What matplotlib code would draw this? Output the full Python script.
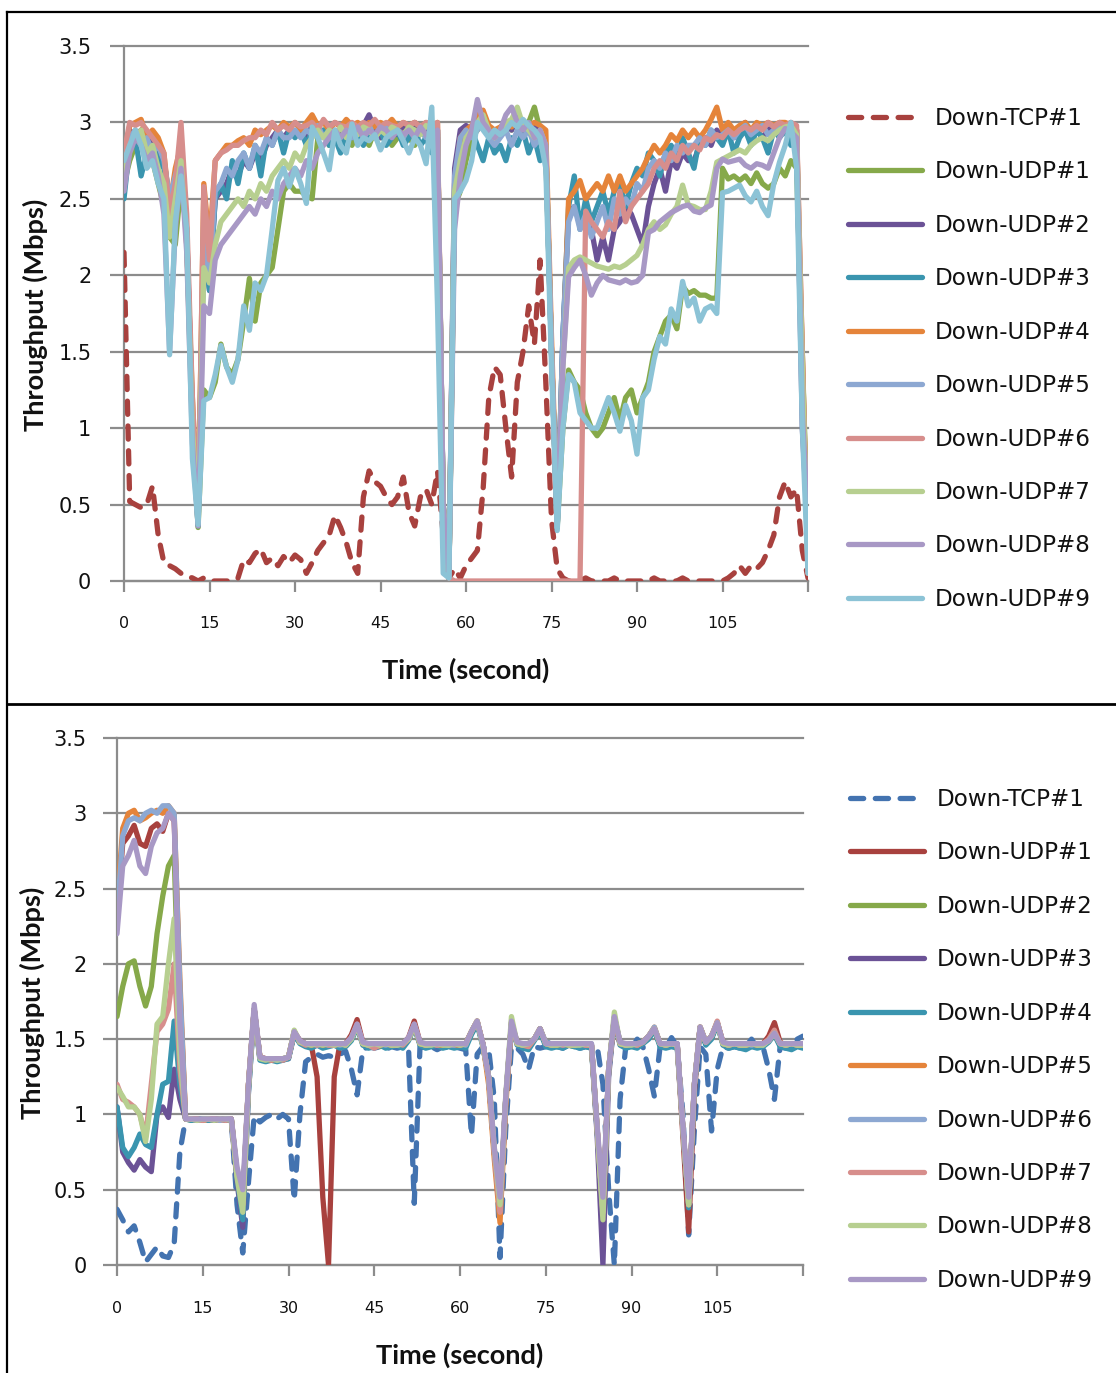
import numpy as np
import matplotlib
matplotlib.use("Agg")
import matplotlib.pyplot as plt
from matplotlib.lines import Line2D

# ---------------- data: top panel (t = 0..120 s) ----------------
top_tcp1 = [2.15, 0.52, 0.50, 0.48, 0.50, 0.62, 0.30, 0.12, 0.10, 0.08,
            0.05, 0.03, 0.02, 0.00, 0.02, 0.00, 0.00, 0.00, 0.00, 0.00,
            0.02, 0.14, 0.12, 0.18, 0.21, 0.12, 0.15, 0.10, 0.16, 0.12,
            0.17, 0.14, 0.05, 0.12, 0.20, 0.25, 0.30, 0.43, 0.35, 0.25,
            0.12, 0.05, 0.55, 0.72, 0.65, 0.62, 0.55, 0.50, 0.55, 0.68,
            0.45, 0.36, 0.55, 0.60, 0.50, 0.72, 0.30, 0.02, 0.08, 0.02,
            0.10, 0.15, 0.20, 0.60, 1.20, 1.40, 1.35, 1.00, 0.68, 1.30,
            1.50, 1.80, 1.55, 2.10, 1.30, 0.40, 0.08, 0.02, 0.00, 0.00,
            0.00, 0.02, 0.00, 0.00, 0.00, 0.00, 0.02, 0.00, 0.00, 0.00,
            0.00, 0.00, 0.00, 0.02, 0.00, 0.00, 0.00, 0.00, 0.02, 0.00,
            0.00, 0.00, 0.00, 0.00, 0.00, 0.00, 0.02, 0.05, 0.10, 0.05,
            0.10, 0.08, 0.12, 0.20, 0.30, 0.55, 0.65, 0.55, 0.60, 0.20,
            0.02]
top_udp1 = [2.60, 2.75, 2.85, 2.95, 2.85, 2.75, 2.60, 2.45, 2.25, 2.20,
            2.60, 2.30, 1.00, 0.35, 1.25, 1.20, 1.30, 1.55, 1.40, 1.35,
            1.45, 1.70, 1.98, 1.70, 1.95, 2.00, 2.05, 2.30, 2.55, 2.60,
            2.55, 2.55, 2.52, 2.50, 2.90, 2.95, 2.85, 2.90, 2.95, 2.90,
            2.85, 2.95, 2.90, 2.85, 2.95, 2.90, 2.95, 2.85, 2.90, 2.95,
            2.90, 2.85, 2.95, 2.90, 2.85, 2.95, 0.50, 0.02, 2.45, 2.55,
            2.75, 2.90, 2.95, 3.00, 2.95, 2.90, 2.95, 3.00, 2.95, 3.05,
            2.95, 3.00, 3.10, 2.95, 2.80, 1.50, 0.35, 1.00, 1.38, 1.30,
            1.25, 1.10, 1.00, 0.95, 1.00, 1.10, 1.20, 1.05, 1.20, 1.25,
            1.10, 1.20, 1.30, 1.50, 1.60, 1.70, 1.74, 1.65, 1.93, 1.88,
            1.90, 1.87, 1.87, 1.85, 1.85, 2.70, 2.63, 2.65, 2.62, 2.65,
            2.60, 2.67, 2.60, 2.57, 2.60, 2.70, 2.65, 2.75, 2.70, 1.50,
            0.20]
top_udp2 = [2.70, 2.95, 2.90, 2.95, 2.85, 2.90, 2.80, 2.75, 2.50, 2.60,
            2.75, 2.30, 1.10, 0.38, 2.30, 1.90, 2.50, 2.55, 2.60, 2.70,
            2.65, 2.75, 2.70, 2.80, 2.75, 2.85, 2.90, 2.95, 2.90, 2.95,
            2.92, 2.95, 2.90, 2.98, 2.95, 2.90, 2.95, 2.92, 2.95, 3.00,
            2.95, 2.90, 2.98, 3.05, 2.95, 2.90, 2.95, 3.00, 2.92, 2.98,
            2.95, 3.00, 2.93, 2.95, 2.90, 2.95, 0.50, 0.02, 2.70, 2.95,
            2.98, 2.95, 3.00, 3.05, 2.95, 2.90, 2.95, 3.00, 2.95, 3.05,
            3.00, 2.95, 2.98, 2.92, 2.85, 1.50, 0.35, 1.60, 2.40, 2.45,
            2.35, 2.45, 2.30, 2.10, 2.25, 2.10, 2.30, 2.35, 2.45, 2.40,
            2.30, 2.20, 2.45, 2.60, 2.70, 2.55, 2.75, 2.70, 2.80, 2.75,
            2.75, 2.85, 2.90, 2.85, 2.95, 2.90, 2.95, 2.90, 2.95, 3.00,
            2.92, 2.95, 2.90, 2.95, 2.98, 2.92, 2.95, 2.98, 2.95, 1.00,
            0.30]
top_udp3 = [2.50, 2.85, 2.90, 2.65, 2.80, 2.85, 2.75, 2.70, 2.45, 2.55,
            2.70, 2.25, 1.00, 0.36, 2.20, 1.90, 2.50, 2.60, 2.50, 2.75,
            2.60, 2.80, 2.70, 2.85, 2.65, 2.90, 2.85, 2.95, 2.80, 2.95,
            2.90, 2.95, 2.85, 2.95, 2.90, 2.95, 2.85, 2.90, 2.80, 2.95,
            2.90, 2.95, 2.85, 2.95, 2.90, 2.95, 2.85, 2.90, 2.95, 2.85,
            2.90, 2.95, 2.85, 2.90, 2.80, 2.90, 0.50, 0.02, 2.60, 2.85,
            2.90, 2.95, 2.85, 2.75, 2.90, 2.80, 2.85, 2.75, 2.90, 2.85,
            2.95, 2.80, 2.90, 2.75, 2.85, 1.50, 0.35, 1.60, 2.45, 2.65,
            2.30, 2.50, 2.35, 2.45, 2.55, 2.40, 2.55, 2.60, 2.45, 2.60,
            2.70, 2.65, 2.80, 2.75, 2.65, 2.80, 2.85, 2.75, 2.90, 2.80,
            2.70, 2.90, 2.85, 2.95, 2.90, 2.85, 2.95, 2.80, 2.90, 2.95,
            2.85, 2.95, 2.90, 2.80, 2.95, 2.90, 2.95, 2.85, 2.90, 1.20,
            0.20]
top_udp4 = [2.75, 2.98, 3.00, 3.02, 2.90, 2.95, 2.90, 2.80, 2.45, 2.70,
            2.85, 2.20, 1.20, 0.40, 2.60, 2.20, 2.75, 2.80, 2.85, 2.85,
            2.88, 2.90, 2.85, 2.95, 2.92, 2.95, 2.98, 2.95, 3.00, 2.97,
            3.00, 2.95, 3.00, 3.05, 2.98, 3.00, 2.95, 3.00, 2.97, 3.02,
            2.98, 3.00, 2.95, 3.00, 2.97, 3.00, 2.98, 3.02, 2.97, 3.00,
            2.98, 3.00, 2.97, 3.00, 2.95, 3.00, 0.50, 0.02, 2.60, 2.90,
            2.95, 2.98, 3.05, 3.08, 2.98, 2.95, 2.97, 3.00, 2.97, 3.02,
            3.00, 2.98, 3.00, 2.98, 2.95, 1.60, 0.40, 1.50, 2.50, 2.55,
            2.62, 2.50, 2.55, 2.60, 2.55, 2.65, 2.55, 2.65, 2.55, 2.60,
            2.65, 2.70, 2.78, 2.85, 2.80, 2.85, 2.92, 2.88, 2.95, 2.90,
            2.95, 2.90, 2.95, 3.02, 3.10, 2.95, 3.00, 2.95, 2.98, 3.00,
            2.95, 3.00, 2.98, 3.00, 2.98, 3.00, 3.00, 2.98, 2.95, 1.50,
            0.05]
top_udp5 = [2.60, 2.90, 2.95, 2.85, 2.90, 2.80, 2.85, 2.75, 2.50, 2.65,
            2.80, 2.25, 1.10, 0.38, 2.40, 1.95, 2.55, 2.60, 2.70, 2.65,
            2.75, 2.80, 2.70, 2.85, 2.80, 2.90, 2.85, 2.95, 2.90, 2.90,
            2.95, 2.90, 2.95, 2.92, 2.98, 2.90, 2.95, 2.92, 2.97, 2.95,
            2.90, 2.95, 2.92, 2.98, 2.90, 2.95, 2.97, 2.92, 2.95, 2.90,
            2.97, 2.92, 2.95, 2.90, 2.92, 2.95, 0.50, 0.02, 2.65, 2.90,
            2.95, 2.90, 2.95, 3.00, 2.90, 2.85, 2.90, 2.95, 2.85, 2.95,
            2.90, 2.95, 2.85, 2.90, 2.80, 1.50, 0.35, 1.60, 2.35, 2.45,
            2.30, 2.40, 2.25, 2.35, 2.45, 2.30, 2.50, 2.40, 2.50, 2.45,
            2.60, 2.55, 2.70, 2.75, 2.70, 2.80, 2.75, 2.85, 2.80, 2.85,
            2.85, 2.90, 2.85, 2.95, 2.90, 2.92, 2.95, 2.90, 2.95, 2.98,
            2.92, 2.95, 2.98, 2.92, 2.95, 2.98, 2.95, 3.00, 2.95, 1.30,
            0.15]
top_udp6 = [2.80, 3.00, 2.98, 3.00, 2.95, 2.90, 2.85, 2.80, 2.40, 2.60,
            3.00, 2.40, 1.20, 0.40, 2.58, 2.10, 2.75, 2.80, 2.82, 2.85,
            2.85, 2.88, 2.90, 2.90, 2.95, 2.92, 3.00, 2.95, 2.98, 2.95,
            3.00, 2.97, 2.98, 3.00, 2.95, 3.02, 2.97, 3.00, 2.98, 2.97,
            3.00, 2.97, 3.00, 2.98, 3.02, 2.97, 3.00, 2.98, 2.97, 3.00,
            2.98, 3.00, 2.97, 3.00, 2.98, 3.00, 0.40, 0.02, 0.00, 0.00,
            0.00, 0.00, 0.00, 0.00, 0.00, 0.00, 0.00, 0.00, 0.00, 0.00,
            0.00, 0.00, 0.00, 0.00, 0.00, 0.00, 0.00, 0.00, 0.00, 0.00,
            0.00, 2.42, 2.35, 2.30, 2.25, 2.35, 2.30, 2.55, 2.35, 2.45,
            2.50, 2.55, 2.60, 2.70, 2.75, 2.70, 2.80, 2.75, 2.85, 2.80,
            2.85, 2.82, 2.90, 2.88, 2.92, 2.90, 2.95, 2.92, 2.95, 2.97,
            2.95, 2.98, 2.95, 3.00, 2.97, 3.00, 2.98, 3.00, 2.98, 1.50,
            0.05]
top_udp7 = [2.65, 2.85, 2.90, 2.95, 2.80, 2.85, 2.70, 2.60, 2.25, 2.50,
            2.75, 2.20, 1.00, 0.38, 2.05, 1.95, 2.20, 2.35, 2.40, 2.45,
            2.50, 2.45, 2.55, 2.50, 2.60, 2.55, 2.65, 2.70, 2.75, 2.70,
            2.80, 2.75, 2.85, 2.90, 2.95, 2.90, 2.95, 2.92, 2.97, 2.90,
            2.95, 2.92, 2.97, 2.95, 2.90, 2.95, 2.92, 2.97, 2.95, 2.92,
            2.97, 2.95, 2.92, 2.98, 2.95, 2.92, 0.50, 0.02, 2.55, 2.75,
            2.90, 2.95, 3.00, 3.05, 2.95, 2.90, 2.95, 3.00, 3.02, 3.10,
            2.98, 2.95, 2.90, 2.95, 2.85, 1.50, 0.35, 1.40, 2.05, 2.10,
            2.12, 2.10, 2.08, 2.06, 2.05, 2.04, 2.06, 2.05, 2.07, 2.10,
            2.13, 2.20, 2.30, 2.35, 2.30, 2.33, 2.40, 2.45, 2.59, 2.46,
            2.45, 2.43, 2.43, 2.55, 2.74, 2.76, 2.78, 2.80, 2.82, 2.80,
            2.85, 2.88, 2.90, 2.88, 2.92, 2.95, 2.97, 2.98, 2.92, 1.40,
            0.10]
top_udp8 = [2.55, 2.80, 2.90, 2.85, 2.75, 2.80, 2.65, 2.40, 1.50, 2.30,
            2.70, 2.15, 0.90, 0.36, 1.80, 1.75, 2.10, 2.20, 2.25, 2.30,
            2.35, 2.40, 2.45, 2.40, 2.50, 2.45, 2.55, 2.50, 2.60, 2.65,
            2.70, 2.65, 2.75, 2.70, 2.80, 2.85, 2.90, 2.95, 2.90, 2.95,
            2.92, 2.97, 2.90, 2.95, 2.92, 2.97, 2.95, 2.90, 2.95, 2.92,
            2.95, 2.90, 2.97, 2.92, 2.90, 2.95, 0.50, 0.02, 2.30, 2.65,
            2.85, 2.95, 3.15, 3.00, 2.95, 2.90, 2.95, 3.05, 3.10, 3.00,
            2.95, 3.00, 2.90, 2.95, 2.85, 1.50, 0.35, 1.40, 1.99, 2.05,
            2.10, 2.00, 1.87, 1.95, 2.00, 1.97, 1.96, 1.95, 1.97, 1.95,
            1.96, 2.00, 2.28, 2.30, 2.35, 2.38, 2.41, 2.43, 2.45, 2.46,
            2.42, 2.41, 2.44, 2.46, 2.70, 2.76, 2.74, 2.75, 2.76, 2.72,
            2.70, 2.73, 2.72, 2.70, 2.80, 2.90, 2.96, 2.94, 2.90, 1.10,
            0.40]
top_udp9 = [2.75, 2.85, 2.95, 2.85, 2.70, 2.75, 2.60, 2.50, 1.48, 2.35,
            2.65, 2.30, 0.80, 0.37, 1.18, 1.20, 1.35, 1.54, 1.40, 1.30,
            1.45, 1.80, 1.64, 1.95, 1.90, 2.00, 2.30, 2.62, 2.70, 2.58,
            2.70, 2.60, 2.47, 2.97, 2.90, 2.80, 2.69, 2.95, 2.85, 2.80,
            2.99, 2.85, 2.90, 2.88, 2.92, 2.82, 2.90, 2.93, 2.95, 2.88,
            2.80, 2.90, 2.85, 2.73, 3.10, 1.80, 0.05, 0.02, 2.50, 2.55,
            2.62, 2.75, 3.00, 2.95, 2.90, 2.95, 2.92, 2.95, 3.00, 2.97,
            3.02, 2.98, 2.95, 2.90, 2.70, 1.40, 0.33, 1.00, 1.35, 1.30,
            1.10, 1.05, 1.00, 1.00, 1.10, 1.20, 1.10, 0.98, 1.15, 1.05,
            0.83, 1.20, 1.25, 1.45, 1.60, 1.55, 1.78, 1.70, 1.96, 1.80,
            1.85, 1.70, 1.78, 1.80, 1.75, 2.54, 2.55, 2.57, 2.59, 2.52,
            2.48, 2.55, 2.45, 2.39, 2.60, 2.74, 2.85, 3.00, 2.70, 1.00,
            0.05]

# ---------------- data: bottom panel (t = 0..120 s) ----------------
bot_tcp1 = [0.37, 0.30, 0.22, 0.26, 0.15, 0.02, 0.07, 0.12, 0.06, 0.05,
            0.14, 0.75, 0.97, 0.97, 0.97, 0.97, 0.97, 0.97, 0.97, 0.97,
            0.96, 0.40, 0.08, 0.55, 0.99, 0.95, 0.98, 1.00, 0.97, 1.00,
            0.97, 0.43, 1.00, 1.35, 1.38, 1.40, 1.38, 1.39, 1.38, 1.40,
            1.42, 1.30, 1.13, 1.43, 1.45, 1.44, 1.45, 1.43, 1.45, 1.44,
            1.45, 1.44, 0.41, 1.45, 1.44, 1.45, 1.43, 1.45, 1.44, 1.45,
            1.44, 1.43, 0.86, 1.40, 1.45, 1.44, 1.10, 0.05, 0.90, 1.45,
            1.44, 1.40, 1.30, 1.45, 1.44, 1.45, 1.50, 1.45, 1.44, 1.46,
            1.45, 1.44, 1.45, 1.44, 1.45, 1.20, 0.50, 0.00, 1.10, 1.45,
            1.44, 1.50, 1.45, 1.30, 1.12, 1.45, 1.44, 1.51, 1.45, 1.00,
            0.20, 0.90, 1.45, 1.40, 0.89, 1.30, 1.45, 1.44, 1.45, 1.44,
            1.45, 1.50, 1.44, 1.45, 1.30, 1.10, 1.45, 1.44, 1.45, 1.50,
            1.52]
bot_udp1 = [2.30, 2.80, 2.85, 2.92, 2.80, 2.78, 2.90, 2.93, 2.88, 3.00,
            2.95, 1.80, 0.97, 0.97, 0.96, 0.97, 0.97, 0.96, 0.97, 0.97,
            0.96, 0.60, 0.40, 1.20, 1.70, 1.38, 1.37, 1.36, 1.37, 1.36,
            1.38, 1.55, 1.49, 1.47, 1.46, 1.25, 0.45, 0.00, 1.25, 1.47,
            1.47, 1.53, 1.63, 1.48, 1.46, 1.47, 1.46, 1.47, 1.46, 1.46,
            1.47, 1.51, 1.62, 1.48, 1.46, 1.47, 1.46, 1.46, 1.47, 1.46,
            1.46, 1.47, 1.55, 1.62, 1.47, 1.25, 0.75, 0.40, 1.10, 1.60,
            1.48, 1.46, 1.47, 1.50, 1.57, 1.47, 1.46, 1.46, 1.47, 1.46,
            1.46, 1.47, 1.46, 1.46, 0.90, 0.35, 1.30, 1.64, 1.48, 1.46,
            1.47, 1.46, 1.48, 1.52, 1.57, 1.47, 1.46, 1.47, 1.46, 0.85,
            0.22, 1.15, 1.58, 1.48, 1.52, 1.61, 1.48, 1.46, 1.47, 1.46,
            1.46, 1.47, 1.46, 1.47, 1.52, 1.61, 1.48, 1.46, 1.47, 1.46,
            1.46]
bot_udp2 = [1.65, 1.85, 2.00, 2.02, 1.85, 1.72, 1.85, 2.20, 2.45, 2.65,
            2.72, 1.50, 0.97, 0.96, 0.97, 0.97, 0.96, 0.97, 0.97, 0.96,
            0.97, 0.62, 0.42, 1.20, 1.70, 1.38, 1.36, 1.37, 1.36, 1.37,
            1.38, 1.54, 1.48, 1.46, 1.47, 1.46, 1.47, 1.46, 1.47, 1.46,
            1.47, 1.50, 1.58, 1.47, 1.46, 1.47, 1.45, 1.47, 1.46, 1.47,
            1.46, 1.50, 1.58, 1.47, 1.46, 1.47, 1.46, 1.45, 1.47, 1.46,
            1.45, 1.47, 1.54, 1.61, 1.46, 1.25, 0.75, 0.38, 1.10, 1.60,
            1.47, 1.45, 1.47, 1.50, 1.56, 1.47, 1.46, 1.45, 1.47, 1.46,
            1.45, 1.47, 1.46, 1.45, 0.90, 0.35, 1.30, 1.64, 1.47, 1.46,
            1.45, 1.47, 1.48, 1.51, 1.56, 1.46, 1.45, 1.47, 1.46, 0.90,
            0.40, 1.20, 1.57, 1.47, 1.51, 1.60, 1.47, 1.45, 1.46, 1.47,
            1.46, 1.45, 1.47, 1.46, 1.49, 1.53, 1.46, 1.47, 1.45, 1.46,
            1.47]
bot_udp3 = [1.05, 0.75, 0.68, 0.63, 0.70, 0.65, 0.62, 1.00, 1.05, 0.98,
            1.30, 1.10, 0.97, 0.97, 0.96, 0.97, 0.97, 0.96, 0.97, 0.97,
            0.96, 0.55, 0.25, 1.15, 1.70, 1.37, 1.36, 1.37, 1.36, 1.37,
            1.37, 1.54, 1.48, 1.47, 1.46, 1.47, 1.46, 1.47, 1.46, 1.47,
            1.46, 1.50, 1.59, 1.47, 1.46, 1.47, 1.46, 1.46, 1.47, 1.46,
            1.47, 1.50, 1.59, 1.47, 1.46, 1.46, 1.47, 1.46, 1.46, 1.47,
            1.46, 1.47, 1.54, 1.61, 1.47, 1.25, 0.75, 0.35, 1.10, 1.60,
            1.47, 1.46, 1.47, 1.50, 1.57, 1.47, 1.46, 1.46, 1.47, 1.46,
            1.46, 1.46, 1.47, 1.46, 0.85, 0.00, 1.25, 1.64, 1.47, 1.46,
            1.46, 1.47, 1.48, 1.52, 1.57, 1.47, 1.46, 1.46, 1.47, 0.90,
            0.40, 1.20, 1.58, 1.47, 1.51, 1.61, 1.47, 1.46, 1.46, 1.47,
            1.46, 1.47, 1.46, 1.46, 1.49, 1.54, 1.47, 1.46, 1.47, 1.46,
            1.46]
bot_udp4 = [1.05, 0.78, 0.72, 0.78, 0.87, 0.80, 0.78, 1.00, 1.20, 1.22,
            1.62, 1.20, 0.97, 0.96, 0.97, 0.97, 0.96, 0.97, 0.97, 0.96,
            0.97, 0.58, 0.30, 1.15, 1.69, 1.36, 1.35, 1.36, 1.35, 1.36,
            1.37, 1.53, 1.47, 1.45, 1.44, 1.46, 1.44, 1.45, 1.46, 1.44,
            1.45, 1.49, 1.58, 1.46, 1.44, 1.45, 1.46, 1.44, 1.45, 1.46,
            1.44, 1.49, 1.58, 1.46, 1.44, 1.45, 1.46, 1.44, 1.45, 1.44,
            1.45, 1.44, 1.53, 1.60, 1.45, 1.25, 0.75, 0.36, 1.10, 1.59,
            1.46, 1.44, 1.43, 1.49, 1.55, 1.45, 1.44, 1.45, 1.44, 1.46,
            1.45, 1.44, 1.45, 1.44, 0.88, 0.36, 1.28, 1.63, 1.46, 1.44,
            1.45, 1.44, 1.47, 1.50, 1.56, 1.45, 1.44, 1.45, 1.44, 0.90,
            0.38, 1.18, 1.57, 1.46, 1.50, 1.60, 1.46, 1.44, 1.45, 1.44,
            1.43, 1.45, 1.44, 1.45, 1.48, 1.53, 1.45, 1.44, 1.43, 1.45,
            1.44]
bot_udp5 = [2.40, 2.90, 3.00, 3.02, 2.95, 2.97, 3.00, 3.02, 3.00, 3.05,
            3.00, 1.90, 0.97, 0.97, 0.97, 0.96, 0.97, 0.97, 0.96, 0.97,
            0.97, 0.60, 0.40, 1.20, 1.70, 1.38, 1.37, 1.36, 1.37, 1.37,
            1.38, 1.55, 1.48, 1.47, 1.46, 1.47, 1.46, 1.47, 1.46, 1.47,
            1.47, 1.51, 1.59, 1.47, 1.46, 1.47, 1.46, 1.47, 1.46, 1.46,
            1.47, 1.50, 1.59, 1.47, 1.46, 1.47, 1.46, 1.46, 1.47, 1.46,
            1.46, 1.47, 1.55, 1.62, 1.47, 1.20, 0.70, 0.28, 1.05, 1.61,
            1.47, 1.46, 1.47, 1.50, 1.57, 1.47, 1.46, 1.46, 1.47, 1.46,
            1.46, 1.47, 1.46, 1.46, 0.90, 0.35, 1.30, 1.64, 1.47, 1.46,
            1.47, 1.46, 1.48, 1.52, 1.58, 1.47, 1.46, 1.47, 1.46, 0.90,
            0.40, 1.20, 1.58, 1.48, 1.52, 1.61, 1.47, 1.46, 1.47, 1.46,
            1.46, 1.47, 1.46, 1.47, 1.49, 1.54, 1.47, 1.46, 1.47, 1.46,
            1.46]
bot_udp6 = [2.30, 2.85, 2.95, 2.97, 2.95, 3.00, 3.02, 3.00, 3.05, 3.05,
            3.00, 1.85, 0.97, 0.97, 0.96, 0.97, 0.97, 0.97, 0.96, 0.97,
            0.97, 0.60, 0.42, 1.20, 1.70, 1.38, 1.37, 1.37, 1.36, 1.37,
            1.38, 1.55, 1.48, 1.47, 1.47, 1.46, 1.47, 1.46, 1.47, 1.46,
            1.47, 1.51, 1.59, 1.47, 1.46, 1.47, 1.47, 1.46, 1.47, 1.46,
            1.47, 1.50, 1.59, 1.48, 1.46, 1.47, 1.46, 1.47, 1.46, 1.46,
            1.47, 1.46, 1.55, 1.62, 1.47, 1.25, 0.75, 0.36, 1.10, 1.61,
            1.47, 1.46, 1.47, 1.50, 1.57, 1.48, 1.46, 1.47, 1.46, 1.47,
            1.46, 1.47, 1.46, 1.47, 0.90, 0.36, 1.30, 1.65, 1.48, 1.46,
            1.47, 1.46, 1.48, 1.52, 1.58, 1.47, 1.46, 1.47, 1.46, 0.90,
            0.40, 1.20, 1.58, 1.48, 1.52, 1.61, 1.47, 1.46, 1.47, 1.46,
            1.47, 1.46, 1.47, 1.46, 1.49, 1.54, 1.47, 1.46, 1.47, 1.46,
            1.47]
bot_udp7 = [1.20, 1.10, 1.08, 1.05, 1.00, 0.85, 1.20, 1.55, 1.60, 1.70,
            2.00, 1.30, 0.97, 0.97, 0.97, 0.96, 0.97, 0.97, 0.97, 0.96,
            0.97, 0.60, 0.40, 1.20, 1.70, 1.38, 1.37, 1.36, 1.37, 1.36,
            1.38, 1.55, 1.48, 1.46, 1.47, 1.46, 1.47, 1.46, 1.46, 1.47,
            1.46, 1.51, 1.60, 1.47, 1.46, 1.44, 1.46, 1.47, 1.46, 1.47,
            1.46, 1.50, 1.60, 1.47, 1.46, 1.47, 1.46, 1.47, 1.46, 1.47,
            1.46, 1.47, 1.55, 1.62, 1.46, 1.25, 0.75, 0.35, 1.10, 1.61,
            1.47, 1.46, 1.45, 1.50, 1.57, 1.47, 1.46, 1.47, 1.46, 1.47,
            1.46, 1.47, 1.46, 1.46, 0.90, 0.35, 1.30, 1.64, 1.47, 1.46,
            1.47, 1.46, 1.48, 1.52, 1.57, 1.47, 1.46, 1.47, 1.46, 0.90,
            0.40, 1.20, 1.58, 1.48, 1.52, 1.62, 1.47, 1.46, 1.47, 1.46,
            1.46, 1.47, 1.46, 1.47, 1.50, 1.56, 1.47, 1.46, 1.47, 1.46,
            1.46]
bot_udp8 = [1.18, 1.12, 1.05, 1.05, 1.00, 0.82, 1.10, 1.60, 1.65, 2.00,
            2.30, 1.40, 0.97, 0.97, 0.96, 0.97, 0.97, 0.96, 0.97, 0.97,
            0.96, 0.58, 0.35, 1.18, 1.70, 1.37, 1.36, 1.37, 1.36, 1.37,
            1.38, 1.56, 1.48, 1.47, 1.46, 1.47, 1.46, 1.47, 1.46, 1.47,
            1.46, 1.50, 1.59, 1.47, 1.46, 1.47, 1.46, 1.47, 1.46, 1.46,
            1.47, 1.50, 1.59, 1.47, 1.46, 1.46, 1.47, 1.46, 1.46, 1.47,
            1.46, 1.47, 1.55, 1.62, 1.46, 1.25, 0.78, 0.40, 1.12, 1.65,
            1.47, 1.46, 1.47, 1.50, 1.57, 1.47, 1.46, 1.46, 1.47, 1.46,
            1.46, 1.46, 1.47, 1.46, 0.90, 0.30, 1.30, 1.68, 1.47, 1.46,
            1.46, 1.47, 1.48, 1.52, 1.57, 1.47, 1.46, 1.47, 1.46, 0.90,
            0.40, 1.20, 1.58, 1.48, 1.52, 1.61, 1.47, 1.46, 1.47, 1.46,
            1.46, 1.47, 1.46, 1.46, 1.49, 1.54, 1.47, 1.46, 1.47, 1.46,
            1.46]
bot_udp9 = [2.20, 2.65, 2.72, 2.82, 2.65, 2.60, 2.78, 2.87, 2.90, 3.00,
            2.95, 1.60, 0.97, 0.97, 0.97, 0.97, 0.97, 0.97, 0.97, 0.97,
            0.97, 0.65, 0.50, 1.20, 1.73, 1.38, 1.37, 1.37, 1.37, 1.37,
            1.38, 1.55, 1.49, 1.47, 1.47, 1.47, 1.47, 1.47, 1.47, 1.47,
            1.47, 1.51, 1.60, 1.48, 1.47, 1.47, 1.47, 1.47, 1.47, 1.47,
            1.47, 1.51, 1.60, 1.48, 1.47, 1.47, 1.47, 1.47, 1.47, 1.47,
            1.47, 1.47, 1.55, 1.62, 1.47, 1.25, 0.78, 0.45, 1.12, 1.62,
            1.48, 1.47, 1.47, 1.50, 1.57, 1.47, 1.47, 1.47, 1.47, 1.47,
            1.47, 1.47, 1.47, 1.47, 0.92, 0.45, 1.30, 1.65, 1.48, 1.47,
            1.47, 1.47, 1.48, 1.52, 1.57, 1.47, 1.47, 1.47, 1.47, 0.92,
            0.45, 1.20, 1.58, 1.48, 1.52, 1.61, 1.48, 1.47, 1.47, 1.47,
            1.47, 1.47, 1.47, 1.47, 1.49, 1.54, 1.47, 1.47, 1.47, 1.47,
            1.47]

series_labels = ["Down-TCP#1"] + ["Down-UDP#%d" % i for i in range(1, 10)]
top_series = [top_tcp1, top_udp1, top_udp2, top_udp3, top_udp4, top_udp5,
              top_udp6, top_udp7, top_udp8, top_udp9]
bot_series = [bot_tcp1, bot_udp1, bot_udp2, bot_udp3, bot_udp4, bot_udp5,
              bot_udp6, bot_udp7, bot_udp8, bot_udp9]
for s in top_series + bot_series:
    assert len(s) == 121, len(s)

x_ticks = [0, 15, 30, 45, 60, 75, 90, 105, 120]
x_ticklabels = ["0", "15", "30", "45", "60", "75", "90", "105", ""]
y_ticks = [0, 0.5, 1, 1.5, 2, 2.5, 3, 3.5]
y_ticklabels = ["0", "0.5", "1", "1.5", "2", "2.5", "3", "3.5"]

top_colors = ["#A8413E", "#86A94A", "#6B5296", "#3A95AF", "#E5843A",
              "#8DA8D2", "#D78E8C", "#B7CF90", "#A898C5", "#8CC3D6"]
bot_colors = ["#4373B0", "#A8413E", "#86A94A", "#6B5296", "#3A95AF",
              "#E5843A", "#8DA8D2", "#D78E8C", "#B7CF90", "#A898C5"]

# ---------------- figure ----------------
W, H, DPI = 1116, 1373, 100
fig = plt.figure(figsize=(W / DPI, H / DPI), dpi=DPI)
fig.patch.set_facecolor("white")


def fx(px):
    return px / W


def fy(py):
    return 1 - py / H


GRID = "#8C8C8C"
LW = 3.8


def make_panel(rect, series, colors, legend_anchor, ylab_xy, xlab_xy, ypad, xpad):
    ax = fig.add_axes(rect)
    t = np.arange(121)
    handles = []
    for i, (vals, col) in enumerate(zip(series, colors)):
        if i == 0:
            ln, = ax.plot(t, vals, color=col, lw=LW, dashes=(2.5, 2.2),
                          dash_capstyle="round", dash_joinstyle="round",
                          zorder=3)
        else:
            ln, = ax.plot(t, vals, color=col, lw=LW, solid_joinstyle="round",
                          solid_capstyle="round", zorder=3 + i)
        handles.append(ln)
    ax.set_xlim(0, 120)
    ax.set_ylim(0, 3.5)
    ax.set_xticks(x_ticks)
    ax.set_xticklabels(x_ticklabels)
    ax.set_yticks(y_ticks)
    ax.set_yticklabels(y_ticklabels)
    ax.yaxis.grid(True, color=GRID, lw=1.6)
    for gl in ax.get_ygridlines():
        gl.set_clip_on(False)
    ax.set_axisbelow(True)
    for s in ("top", "right"):
        ax.spines[s].set_visible(False)
    for s in ("left", "bottom"):
        ax.spines[s].set_color(GRID)
        ax.spines[s].set_linewidth(1.6)
    ax.tick_params(axis="y", length=10, width=1.6, color=GRID, pad=ypad,
                   labelsize=15, labelcolor="#111111")
    ax.tick_params(axis="x", length=8, width=1.6, color=GRID, pad=xpad,
                   labelsize=11.5, labelcolor="#111111")
    leg = ax.legend(handles, series_labels, loc="upper left",
                    bbox_to_anchor=legend_anchor, bbox_transform=fig.transFigure,
                    frameon=False, fontsize=16.6, handlelength=3.2,
                    handletextpad=0.55, labelspacing=1.32, borderaxespad=0,
                    borderpad=0)
    for txt in leg.get_texts():
        txt.set_color("#111111")
    fig.text(ylab_xy[0], ylab_xy[1], "Throughput (Mbps)", rotation=90,
             ha="center", va="center", fontsize=19.5, fontweight="bold",
             family="Lato", color="#111111")
    fig.text(xlab_xy[0], xlab_xy[1], "Time (second)", ha="center", va="center",
             fontsize=19.5, fontweight="bold", family="Lato", color="#111111")
    return ax


ax1 = make_panel([fx(124), fy(581), fx(808) - fx(124), fy(46) - fy(581)],
                 top_series, top_colors, (fx(848), fy(107)),
                 (fx(35), fy(315)), (fx(466), fy(670)), 13.5, 17)
ax2 = make_panel([fx(117), fy(1265), fx(803) - fx(117), fy(738) - fy(1265)],
                 bot_series, bot_colors, (fx(850), fy(788)),
                 (fx(32), fy(1003)), (fx(460), fy(1355)), 12, 18)

# panel frames
frame_kw = dict(color="black", lw=1.6, transform=fig.transFigure)
fig.add_artist(Line2D([fx(7), 1.0], [fy(12), fy(12)], **frame_kw))
fig.add_artist(Line2D([fx(7), 1.0], [fy(704), fy(704)], color="black", lw=2.0,
                      transform=fig.transFigure))
fig.add_artist(Line2D([fx(7), fx(7)], [fy(12), 0.0], **frame_kw))

fig.savefig("out.png", dpi=DPI, facecolor="white")
